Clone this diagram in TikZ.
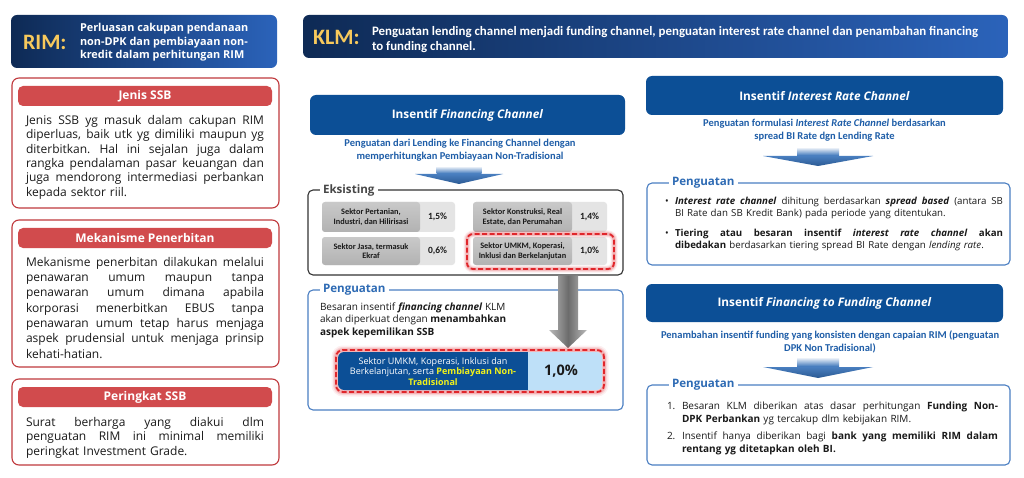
\documentclass[tikz,border=0pt]{standalone}
\usepackage{fontspec}
\setmainfont{Carlito}
\newfontfamily\os{Open Sans}
\definecolor{navyL}{HTML}{0E2A55}
\definecolor{navyR}{HTML}{2B63BA}
\definecolor{gold}{HTML}{F7C95C}
\definecolor{blueH}{HTML}{0C4F96}
\definecolor{blueT}{HTML}{1F5EA8}
\definecolor{blueP}{HTML}{2E6BB4}
\definecolor{blueB}{HTML}{4A7EC2}
\definecolor{redB}{HTML}{C0393D}
\definecolor{redH}{HTML}{D14B4D}
\definecolor{txt}{HTML}{1A1A1A}
\definecolor{grayD}{HTML}{333333}
\definecolor{cellG}{HTML}{B2B2B2}
\definecolor{cellV}{HTML}{E4E4E4}
\definecolor{skyB}{HTML}{BEE0F8}
\definecolor{ylw}{HTML}{F2F21A}
\definecolor{arrB}{HTML}{3570B8}
\definecolor{redD}{HTML}{E0262B}
\newcommand\jl[2][238pt]{\leavevmode\hbox to #1{\spaceskip=0.26em plus 1fil\xspaceskip=0.3em plus 1fil\relax #2}}
\newcommand\myarrow[6]{%
  \shade[top color=white,bottom color=arrB] ({#1-#3},#2) rectangle ({#1+#3},#5);
  \shade[top color=arrB!90!white,bottom color=arrB!80!black] ({#1-#4},#5) -- ({#1+#4},#5) -- (#1,#6) -- cycle;}
\newcommand\ecell[8]{%
  \fill[cellV,rounded corners=3pt] (#1,#2) rectangle (#4,#5);
  \shade[top color=cellG!70!white,bottom color=cellG,rounded corners=3pt] (#1,#2) rectangle (#3,#5);
  \node[elab] (#8l) at ({(#1+#3)/2},{(#2+#5)/2}) {#6};
  \node[evalue] (#8v) at ({(#3+#4)/2},{(#2+#5)/2}) {#7};}
\tikzset{
  redframe/.style={draw=redB,line width=1.1pt,rounded corners=7pt,fill=white},
  redbar/.style={fill=redH,rounded corners=5pt},
  redtitle/.style={text=white,font=\os\bfseries\fontsize{12}{14}\selectfont},
  bodyL/.style={anchor=north west,text width=238pt,align=left,text=txt},
  hdrbox/.style={fill=blueH,rounded corners=6pt},
  hdrtext/.style={text=white,font=\os\bfseries\fontsize{11.8}{14}\selectfont},
  subtext/.style={text=blueT,align=center,font=\bfseries\fontsize{10.5}{12.5}\selectfont},
  graybox/.style={draw=grayD,line width=1.1pt,rounded corners=5pt},
  bluebox/.style={draw=blueB,line width=1.1pt,rounded corners=5pt},
  boxtitle/.style={anchor=west,fill=white,inner xsep=3pt,font=\os\bfseries\fontsize{11.6}{13}\selectfont},
  elab/.style={align=center,text=txt,font=\bfseries\fontsize{8.3}{9.6}\selectfont},
  evalue/.style={text=txt,font=\bfseries\fontsize{9.5}{11}\selectfont},
  bodyR/.style={anchor=north west,align=left,text=txt,font=\os\fontsize{9.7}{12}\selectfont},
}
\begin{document}
\begin{tikzpicture}[x=1pt,y=-1pt,every node/.style={inner sep=0pt,outer sep=0pt}]
\useasboundingbox (0,0) rectangle (1024,478);
\fill[white] (0,0) rectangle (1024,478);

% ---------- RIM header ----------
\shade[left color=navyL,right color=navyR,rounded corners=6pt] (11,15) rectangle (277,68);
\node[anchor=west,text=gold,font=\bfseries\fontsize{22}{24}\selectfont] (rimlbl) at (23,42) {RIM:};
\node[anchor=west,text=white,align=left,font=\os\bfseries\fontsize{10.9}{13.5}\selectfont] (rimtxt) at (80,42.5)
  {Perluasan cakupan pendanaan\\non-DPK dan pembiayaan non-\\kredit dalam perhitungan RIM};

% ---------- Jenis SSB ----------
\draw[redframe] (12,78) rectangle (279,208);
\fill[redbar] (18,86) rectangle (272,106);
\node[redtitle] (jenisT) at (145,96) {Jenis SSB};
\node[bodyL,font=\os\fontsize{12}{14.4}\selectfont] (jenisB) at (26,114.2)
  {\strut\jl{Jenis SSB yg masuk dalam cakupan RIM}\\
   \jl{diperluas, baik utk yg dimiliki maupun yg}\\
   \jl{diterbitkan. Hal ini sejalan juga dalam}\\
   \jl{rangka pendalaman pasar keuangan dan}\\
   \jl{juga mendorong intermediasi perbankan}\\
   kepada sektor riil.};

% ---------- Mekanisme Penerbitan ----------
\draw[redframe] (12,220) rectangle (279,367);
\fill[redbar] (18,228) rectangle (272,248);
\node[redtitle] (mekT) at (145,238) {Mekanisme Penerbitan};
\node[bodyL,font=\os\fontsize{12}{15.3}\selectfont] (mekB) at (26,255.6)
  {\strut\jl{Mekanisme penerbitan dilakukan melalui}\\
   \jl{penawaran umum maupun tanpa}\\
   \jl{penawaran umum dimana apabila}\\
   \jl{korporasi menerbitkan EBUS tanpa}\\
   \jl{penawaran umum tetap harus menjaga}\\
   \jl{aspek prudensial untuk menjaga prinsip}\\
   kehati-hatian.};

% ---------- Peringkat SSB ----------
\draw[redframe] (12,379) rectangle (279,465);
\fill[redbar] (18,387) rectangle (272,407);
\node[redtitle] (perT) at (145,397) {Peringkat SSB};
\node[bodyL,font=\os\fontsize{12}{14.5}\selectfont] (perB) at (26,416)
  {\strut\jl{Surat berharga yang diakui dlm}\\
   \jl{penguatan RIM ini minimal memiliki}\\
   peringkat Investment Grade.};

% ---------- KLM header ----------
\shade[left color=navyL,right color=navyR,rounded corners=6pt] (303,15) rectangle (1008,58);
\node[anchor=west,text=gold,font=\bfseries\fontsize{22}{24}\selectfont] (klmlbl) at (313,37) {KLM:};
\node[anchor=west,text=white,align=left,font=\bfseries\fontsize{12.9}{15}\selectfont] (klmtxt) at (372,39.5)
  {Penguatan lending channel menjadi funding channel, penguatan interest rate channel dan penambahan financing\\to funding channel.};

% ---------- Insentif Financing Channel ----------
\fill[hdrbox] (310,95) rectangle (625,135);
\node[hdrtext] (fcT) at (467.5,115) {Insentif \textit{Financing Channel}};
\node[subtext] (fcS) at (460,150) {Penguatan dari Lending ke Financing Channel dengan\\memperhitungkan Pembiayaan Non-Tradisional};
\myarrow{459}{166}{22.5}{44}{174}{184}

% Eksisting
\draw[graybox] (308,190) rectangle (623,275);
\node[boxtitle,text=grayD!90!white] (eksT) at (320,190) {Eksisting};
\ecell{322}{202}{420}{455}{232}{Sektor Pertanian,\\Industri, dan Hilirisasi}{1,5\%}{c1}
\ecell{473}{202}{572}{607}{232}{Sektor Konstruksi, Real\\Estate, dan Perumahan}{1,4\%}{c2}
\ecell{322}{237}{420}{455}{265}{Sektor Jasa, termasuk\\Ekraf}{0,6\%}{c3}
\ecell{473}{237}{572}{607}{265}{Sektor UMKM, Koperasi,\\Inklusi dan Berkelanjutan}{1,0\%}{c4}
\foreach \w/\o in {7/0.08,5/0.12,3/0.2}
  \draw[redD,opacity=\o,line width=\w pt,rounded corners=6pt] (467,234) rectangle (614,269);
\draw[redD,dash pattern=on 5pt off 2.5pt,line width=1.8pt,rounded corners=6pt] (467,234) rectangle (614,269);

% Penguatan (left)
\draw[bluebox] (308,290) rectangle (623,410);
\node[boxtitle,text=blueP] (pgL) at (320,290) {Penguatan};
\node[bodyR,font=\os\fontsize{10}{12.5}\selectfont] (pgLB) at (320,301.7)
  {\strut Besaran insentif \textbf{\textit{financing channel}} KLM\\
   akan diperkuat dengan \textbf{menambahkan}\\
   \textbf{aspek kepemilikan SSB}};

% gray arrow
\shade[left color=gray!55,right color=gray!55,middle color=gray!85!black]
  (558,275.6) -- (578,275.6) -- (578,330) -- (587,330) -- (568,348) -- (549,330) -- (558,330) -- cycle;

% big row
\foreach \w/\o in {9/0.07,6/0.12,3.5/0.2}
  \draw[redD,opacity=\o,line width=\w pt,rounded corners=7pt] (336,350) rectangle (604,392);
\fill[blueH,rounded corners=6pt] (338,352) rectangle (536,390);
\fill[skyB,rounded corners=6pt] (528,352) rectangle (602,390);
\fill[skyB] (528,352) rectangle (540,390);
\draw[redD,dash pattern=on 5pt off 2.5pt,line width=1.8pt,rounded corners=7pt] (336,350) rectangle (604,392);
\node[align=center,text=white,font=\os\fontsize{9}{10.8}\selectfont] (bigL) at (433,371.5)
  {Sektor UMKM, Koperasi, Inklusi dan\\Berkelanjutan, serta \textcolor{ylw}{\textbf{Pembiayaan Non-}}\\\textcolor{ylw}{\textbf{Tradisional}}};
\node[text=txt,font=\os\bfseries\fontsize{14.5}{16}\selectfont] (bigV) at (561,371) {1,0\%};

% ---------- Insentif Interest Rate Channel ----------
\fill[hdrbox] (646,76) rectangle (1003,115);
\node[hdrtext] (irT) at (824.5,96) {Insentif \textit{Interest Rate Channel}};
\node[subtext] (irS) at (824.5,130) {Penguatan formulasi \textit{Interest Rate Channel} berdasarkan\\spread BI Rate dgn Lending Rate};
\myarrow{818}{147}{21}{55}{156}{166}

\draw[bluebox] (647,183) rectangle (1010,265);
\node[boxtitle,text=blueP] (pgR1) at (669,183) {Penguatan};
\node[bodyR] (b1) at (665,196.4) {\strut•};
\node[bodyR,text width=328pt] (pgR1a) at (675,196.4)
  {\strut\jl[328pt]{\textbf{\textit{Interest rate channel}} dihitung berdasarkan \textbf{\textit{spread based}} (antara SB}\\
   BI Rate dan SB Kredit Bank) pada periode yang ditentukan.};
\node[bodyR] (b2) at (665,228.4) {\strut•};
\node[bodyR,text width=328pt] (pgR1b) at (675,228.4)
  {\strut\jl[328pt]{\textbf{Tiering atau besaran insentif \textit{interest rate channel} akan}}\\
   \textbf{dibedakan} berdasarkan tiering spread BI Rate dengan \textit{lending rate}.};

% ---------- Insentif Financing to Funding Channel ----------
\fill[hdrbox] (646,284) rectangle (1003,322);
\node[hdrtext] (ffT) at (824.5,303) {Insentif \textit{Financing to Funding Channel}};
\node[subtext] (ffS) at (830,342) {Penambahan insentif funding yang konsisten dengan capaian RIM (penguatan\\DPK Non Tradisional)};
\myarrow{818}{357}{21}{55}{367}{378}

\draw[bluebox] (647,385) rectangle (1010,465);
\node[boxtitle,text=blueP] (pgR2) at (669,385) {Penguatan};
\node[bodyR,font=\os\fontsize{10}{12.4}\selectfont] (n1) at (667,401) {\strut 1.};
\node[bodyR,text width=316pt,font=\os\fontsize{10}{12.4}\selectfont] (pgR2a) at (682,401)
  {\strut\jl[316pt]{Besaran KLM diberikan atas dasar perhitungan \textbf{Funding Non-}}\\
   \textbf{DPK Perbankan} yg tercakup dlm kebijakan RIM.};
\node[bodyR,font=\os\fontsize{10}{12.4}\selectfont] (n2) at (667,431) {\strut 2.};
\node[bodyR,text width=316pt,font=\os\fontsize{10}{12.4}\selectfont] (pgR2b) at (682,431)
  {\strut\jl[316pt]{Insentif hanya diberikan bagi \textbf{bank yang memiliki RIM dalam}}\\
   \textbf{rentang yg ditetapkan oleh BI.}};
\end{tikzpicture}
\end{document}
